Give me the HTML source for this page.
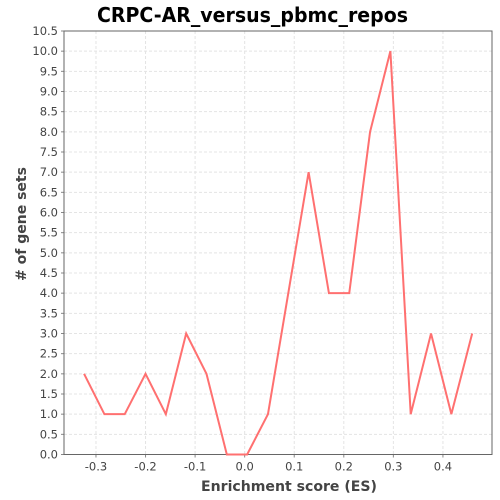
<!DOCTYPE html>
<html><head><meta charset="utf-8"><style>
body{margin:0;background:#fff;}
svg{display:block;font-family:"DejaVu Sans","Liberation Sans",sans-serif;}
</style></head><body>
<svg id="chart" width="500" height="500"></svg>
<script>
const esValues=[-0.324,-0.283,-0.242,-0.200,-0.159,-0.118,-0.077,-0.036,0.005,0.047,0.088,0.129,0.170,0.211,0.253,0.294,0.335,0.376,0.417,0.459];
const geneSetCounts=[2,1,1,2,1,3,2,0,0,1,4,7,4,4,8,10,1,3,1,3];
const xTicks=[-0.3,-0.2,-0.1,0.0,0.1,0.2,0.3,0.4];
const yTicks=[0,0.5,1,1.5,2,2.5,3,3.5,4,4.5,5,5.5,6,6.5,7,7.5,8,8.5,9,9.5,10,10.5];
const L=64,R=492,T=31,B=454.5,X0=-0.3645,X1=0.499,Y0=0,Y1=10.5;
const xs=v=>L+(v-X0)/(X1-X0)*(R-L);
const ys=v=>B-(v-Y0)/(Y1-Y0)*(B-T);
const svg=document.getElementById('chart');
const NS='http://www.w3.org/2000/svg';
function mk(tag,attrs,parent){const e=document.createElementNS(NS,tag);for(const k in attrs)e.setAttribute(k,attrs[k]);(parent||svg).appendChild(e);return e;}
let t=mk('text',{x:97,y:22,'font-size':20,'font-weight':'bold',fill:'#000',textLength:311,lengthAdjust:'spacingAndGlyphs'});
t.textContent='CRPC-AR_versus_pbmc_repos';


const grid=mk('g',{stroke:'#e4e4e4','stroke-dasharray':'3,2','stroke-width':1});


yTicks.forEach(v=>{
  mk('line',{x1:L,x2:R,y1:ys(v),y2:ys(v)},grid);
  const lb=mk('text',{x:L-6,y:ys(v)+4,'text-anchor':'end','font-size':11.5,fill:'#444'});
  lb.textContent=v.toFixed(1);
  
  
  mk('line',{x1:L-3,x2:L,y1:ys(v),y2:ys(v),stroke:'#888'});
});
xTicks.forEach(v=>{
  mk('line',{x1:xs(v),x2:xs(v),y1:T,y2:B},grid);
  const lb=mk('text',{x:xs(v),y:B+16,'text-anchor':'middle','font-size':11.5,fill:'#444'});
  lb.textContent=v.toFixed(1);
  
  
  mk('line',{x1:xs(v),x2:xs(v),y1:B,y2:B+3,stroke:'#888'});
});
const frame=mk('rect',{x:L,y:T,width:R-L,height:B-T,fill:'none',stroke:'#666','stroke-width':1});


const line=mk('polyline',{points:esValues.map((v,i)=>xs(v)+','+ys(geneSetCounts[i])).join(' '),fill:'none',stroke:'#ff7070','stroke-width':2});


const xl=mk('text',{x:201,y:491,'font-size':14,'font-weight':'bold',fill:'#444',textLength:176,lengthAdjust:'spacingAndGlyphs'});
xl.textContent='Enrichment score (ES)';


const yl=mk('text',{x:0,y:0,'text-anchor':'middle','font-size':14,'font-weight':'bold',fill:'#444',transform:'translate(26,224) rotate(-90)'});
yl.textContent='# of gene sets';


</script>
</body></html>
